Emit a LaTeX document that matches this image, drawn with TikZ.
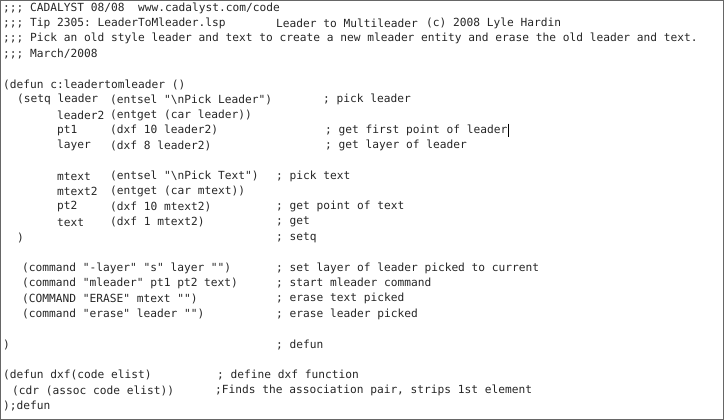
\documentclass[tikz,border=0pt]{standalone}
\usepackage{fontspec}
\setmonofont{DejaVu Sans Mono}
\tikzset{code/.style={anchor=west,inner sep=0pt,font=\ttfamily\fontsize{11.2}{13}\selectfont,text=black!85}}
\newcommand{\CL}[4]{\node[code] (#1) at (#2pt,{-(8+15.3*#3)*1pt}) {#4};}
\begin{document}
\begin{tikzpicture}
\useasboundingbox (0,0) rectangle (724pt,-420pt);
\draw[black!60,line width=1pt] (0.5pt,-0.5pt) rectangle (723.5pt,-419.5pt);
\CL{a0}{3}{0}{;;; CADALYST 08/08}
\CL{a0b}{138}{0}{www.cadalyst.com/code}
\CL{a1}{3}{1}{;;; Tip 2305: LeaderToMleader.lsp}
\CL{a1b}{276}{1}{Leader to Multileader}
\CL{a1c}{426}{1}{(c) 2008 Lyle Hardin}
\CL{a2}{3}{2}{;;; Pick an old style leader and text to create a new mleader entity and erase the old leader and text.}
\CL{a3}{3}{3}{;;; March/2008}
\CL{a5}{3}{5}{(defun c:leadertomleader ()}
\CL{a6}{17}{6}{(setq leader}
\CL{a6b}{110}{6}{(entsel "\textbackslash nPick Leader")}
\CL{a6c}{323}{6}{; pick leader}
\CL{a7}{57}{7}{leader2}
\CL{a7b}{110}{7}{(entget (car leader))}
\CL{a8}{57}{8}{pt1}
\CL{a8b}{110}{8}{(dxf 10 leader2)}
\CL{a8c}{325}{8}{; get first point of leader}
\draw[black] (a8c.north east) ++(1pt,1pt) coordinate (cur1) -- ++(0,-13pt) coordinate (cur2);
\CL{a9}{57}{9}{layer}
\CL{a9b}{110}{9}{(dxf 8 leader2)}
\CL{a9c}{325}{9}{; get layer of leader}
\CL{a11}{57}{11}{mtext}
\CL{a11b}{110}{11}{(entsel "\textbackslash nPick Text")}
\CL{a11c}{276}{11}{; pick text}
\CL{a12}{57}{12}{mtext2}
\CL{a12b}{110}{12}{(entget (car mtext))}
\CL{a13}{57}{13}{pt2}
\CL{a13b}{110}{13}{(dxf 10 mtext2)}
\CL{a13c}{276}{13}{; get point of text}
\CL{a14}{57}{14}{text}
\CL{a14b}{110}{14}{(dxf 1 mtext2)}
\CL{a14c}{276}{14}{; get}
\CL{a15}{17}{15}{)}
\CL{a15c}{276}{15}{; setq}
\CL{a17}{22}{17}{(command "-layer" "s" layer "")}
\CL{a17c}{276}{17}{; set layer of leader picked to current}
\CL{a18}{22}{18}{(command "mleader" pt1 pt2 text)}
\CL{a18c}{276}{18}{; start mleader command}
\CL{a19}{22}{19}{(COMMAND "ERASE" mtext "")}
\CL{a19c}{276}{19}{; erase text picked}
\CL{a20}{22}{20}{(command "erase" leader "")}
\CL{a20c}{276}{20}{; erase leader picked}
\CL{a22}{3}{22}{)}
\CL{a22c}{276}{22}{; defun}
\CL{a24}{3}{24}{(defun dxf(code elist)}
\CL{a24c}{217}{24}{; define dxf function}
\CL{a25}{12}{25}{(cdr (assoc code elist))}
\CL{a25c}{215}{25}{;Finds the association pair, strips 1st element}
\CL{a26}{3}{26}{);defun}
\end{tikzpicture}
\end{document}
